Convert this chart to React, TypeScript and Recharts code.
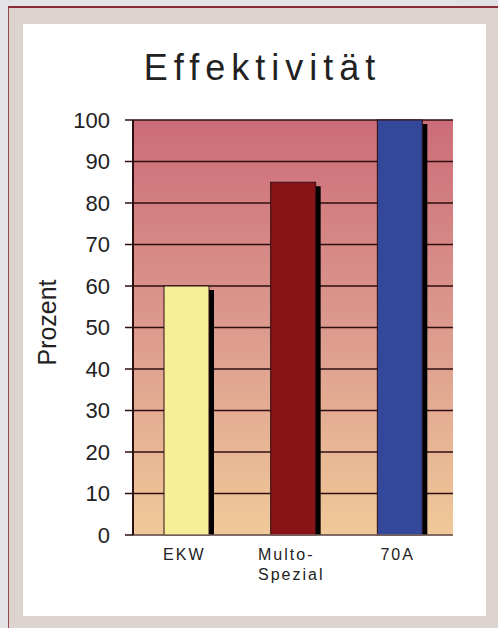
import { BarChart, Bar, XAxis, YAxis, CartesianGrid } from "recharts"

const categories = [["EKW"], ["Multo-", "Spezial"], ["70A"]]
const values = [60, 85, 100]
const barColors = ["#f6ef98", "#8a1317", "#34489b"]
const yTicks = [0, 10, 20, 30, 40, 50, 60, 70, 80, 90, 100]

const data = categories.map((lines, i) => ({
  name: lines.join(" "),
  lines,
  value: values[i],
}))

const font = "Arial, 'Liberation Sans', sans-serif"
const dark = "#2e0f10"

const ShadowBar = (props: any) => {
  const { x, y, width, height, index } = props
  if (!height || height <= 0) return null
  return (
    <g>
      <rect x={x + 5} y={y + 4} width={width} height={height - 4} fill="#000" />
      <rect x={x} y={y} width={width} height={height} fill={barColors[index]} stroke={dark} strokeWidth={1} />
    </g>
  )
}

// multi-line labels are left aligned as a block, like the original
const CatTick = (props: any) => {
  const { x, y, payload, index } = props
  const lines = categories[index] ?? [payload.value]
  const multi = lines.length > 1
  const tx = multi ? x - 35 : x - 2
  return (
    <text
      x={tx}
      y={y}
      textAnchor={multi ? "start" : "middle"}
      fontFamily={font}
      fontSize={16}
      letterSpacing={2}
      fill="#222"
    >
      {lines.map((l, i) => (
        <tspan key={i} x={tx} dy={i === 0 ? 17 : 20}>
          {l}
        </tspan>
      ))}
    </text>
  )
}

export default function App() {
  return (
    <div
      style={{
        position: "fixed",
        left: 0,
        top: 0,
        width: 498,
        height: 628,
        background: "linear-gradient(110deg, #e4e4e6 60%, #d9d9db 85%, #ececee 100%)",
        overflow: "hidden",
      }}
    >
      <div
        style={{
          position: "absolute",
          left: 8,
          top: 6,
          width: 490,
          height: 622,
          background: "#ddd3ce",
          borderTop: "2px solid #8c2c32",
          borderLeft: "1px solid #9a4a4e",
          boxSizing: "border-box",
        }}
      />
      <div style={{ position: "absolute", left: 23, top: 24, width: 463, height: 592, background: "#fff" }} />
      <div
        style={{
          position: "absolute",
          left: 0,
          top: 50,
          width: 525,
          textAlign: "center",
          fontFamily: font,
          fontSize: 36,
          lineHeight: "36px",
          letterSpacing: 6,
          color: "#222",
        }}
      >
        Effektivität
      </div>
      <div style={{ position: "absolute", left: 0, top: 0 }}>
        <BarChart
          width={498}
          height={628}
          data={data}
          margin={{ top: 120, right: 45, left: 73, bottom: 43 }}
          barCategoryGap={31}
        >
          <defs>
            <linearGradient id="plotBg" x1="0" y1="0" x2="0" y2="1">
              <stop offset="0%" stopColor="#cc6c78" />
              <stop offset="50%" stopColor="#dc9a8e" />
              <stop offset="100%" stopColor="#f0c999" />
            </linearGradient>
          </defs>
          <CartesianGrid
            vertical={false}
            stroke={dark}
            strokeWidth={1.5}
            fill="url(#plotBg)"
            fillOpacity={1}
          />
          <XAxis
            dataKey="name"
            tickLine={false}
            axisLine={{ stroke: "#a09088", strokeWidth: 1 }}
            tick={<CatTick />}
            height={50}
            interval={0}
          />
          <YAxis
            domain={[0, 100]}
            ticks={yTicks}
            width={60}
            tickSize={8}
            tickMargin={15}
            axisLine={{ stroke: dark, strokeWidth: 2 }}
            tickLine={{ stroke: dark, strokeWidth: 1.5 }}
            tick={{ fontFamily: font, fontSize: 22, fill: "#222" }}
            label={{
              content: (p: any) => {
                const vb = p.viewBox
                const cx = vb.x - 26
                const cy = vb.y + vb.height / 2 - 5
                return (
                  <text
                    x={cx}
                    y={cy}
                    transform={`rotate(-90 ${cx} ${cy})`}
                    textAnchor="middle"
                    dominantBaseline="central"
                    fontFamily={font}
                    fontSize={25}
                    fill="#222"
                  >
                    Prozent
                  </text>
                )
              },
            }}
          />
          <YAxis
            yAxisId="right"
            orientation="right"
            domain={[0, 100]}
            width={0}
            tick={false}
            tickLine={false}
            axisLine={{ stroke: "#a09088", strokeWidth: 1 }}
          />
          <Bar dataKey="value" shape={<ShadowBar />} isAnimationActive={false} />
        </BarChart>
      </div>
    </div>
  )
}
